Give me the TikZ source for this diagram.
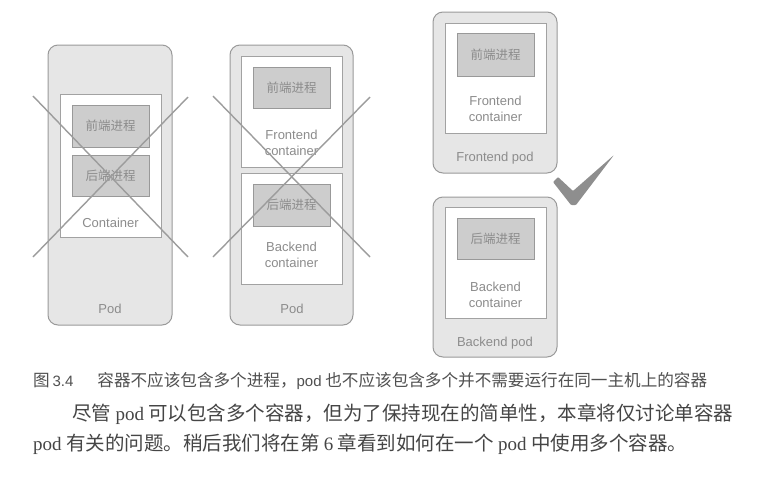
\documentclass[tikz,border=0pt]{standalone}
\usepackage{fontspec}
\setmainfont{Liberation Sans}
\newfontfamily\cjkfont{Noto Sans CJK SC}
\newfontfamily\sansl{Liberation Sans}
\newfontfamily\serifl{Liberation Serif}

\definecolor{podfill}{HTML}{E6E6E6}
\definecolor{podline}{HTML}{9A9A9A}
\definecolor{ctrline}{HTML}{A2A2A2}
\definecolor{procfill}{HTML}{CDCDCD}
\definecolor{procline}{HTML}{999999}
\definecolor{txtgray}{HTML}{8C8C8C}
\definecolor{xgray}{HTML}{9C9C9C}
\definecolor{checkgray}{HTML}{8E8E8E}
\definecolor{captgray}{HTML}{505050}
\definecolor{paragray}{HTML}{454545}

\newcommand\capl[1]{{\sansl\fontsize{15}{20}\selectfont #1}}
\newcommand\parl[1]{{\serifl\fontsize{19}{30}\selectfont #1}}

\begin{document}
\begin{tikzpicture}[
  x=1pt, y=-1pt,
  pod/.style   = {draw=podline, fill=podfill, line width=1pt, rounded corners=10pt, inner sep=0pt},
  ctr/.style   = {draw=ctrline, fill=white, line width=0.9pt, inner sep=0pt, minimum width=101pt},
  proc/.style  = {draw=procline, fill=procfill, line width=0.8pt, inner sep=0pt, minimum width=77pt,
                  font=\cjkfont\fontsize{12.5}{14}\selectfont, text=txtgray},
  lbl/.style   = {font=\fontsize{13}{16}\selectfont, text=txtgray, align=center, inner sep=0pt},
  xline/.style = {xgray, line width=1.4pt},
  capt/.style  = {font=\cjkfont\fontsize{16.6}{20}\selectfont, text=captgray, inner sep=0pt},
  para/.style  = {font=\cjkfont\fontsize{19.5}{30}\selectfont, text=paragray, inner sep=0pt, align=left},
]
\fill[white] (0,0) rectangle (764,480);
\useasboundingbox (0,0) rectangle (764,480);

%% ------------------------------------------------------------------ POD A : one container, two processes
\node[pod, minimum width=124pt, minimum height=280pt] (podA) at (110,185) {};
\node[ctr, minimum height=143pt] (ctrA) at (110.5,165.5) {};
\node[proc, minimum height=42pt] (feA) at (110.5,126) {前端进程};
\node[proc, minimum height=41pt] (beA) at (110.5,175.5) {后端进程};
\node[lbl] (ctrAlbl) at (110.5,223) {Container};
\node[lbl] (podAlbl) at (110,309) {Pod};
\draw[xline] (33,96) -- (188,257);
\draw[xline] (33,257) -- (188,97);

%% ------------------------------------------------------------------ POD B : two containers in one pod
\node[pod, minimum width=123pt, minimum height=280pt] (podB) at (291.5,185) {};
\node[ctr, minimum height=111pt] (feCtrB) at (291.5,111.5) {};
\node[proc, minimum height=41pt] (feB) at (291.5,87.5) {前端进程};
\node[lbl] (feCtrBlbl) at (291.5,143) {Frontend\\container};
\node[ctr, minimum height=111pt] (beCtrB) at (291.5,228.5) {};
\node[proc, minimum height=42pt] (beB) at (291.5,205) {后端进程};
\node[lbl] (beCtrBlbl) at (291.5,255) {Backend\\container};
\node[lbl] (podBlbl) at (292,309) {Pod};
\draw[xline] (213,96) -- (370,257);
\draw[xline] (213,257) -- (370,97);

%% ------------------------------------------------------------------ PODS C, D : one container each
\node[pod, minimum width=124pt, minimum height=161pt] (podC) at (495,92.5) {};
\node[ctr, minimum height=110pt] (ctrC) at (495.5,78) {};
\node[proc, minimum height=43pt] (feC) at (495.5,54.5) {前端进程};
\node[lbl] (ctrClbl) at (495.5,109) {Frontend\\container};
\node[lbl] (podClbl) at (495,158) {Frontend pod};

\node[pod, minimum width=124pt, minimum height=160pt] (podD) at (495,277) {};
\node[ctr, minimum height=111pt] (ctrD) at (495.5,262.5) {};
\node[proc, minimum height=41pt] (beD) at (495.5,238.5) {后端进程};
\node[lbl] (ctrDlbl) at (495.5,294.5) {Backend\\container};
\node[lbl] (podDlbl) at (495,343) {Backend pod};

% tick
\fill[checkgray, rounded corners=1pt] (553,182) -- (558,177) -- (573,191) -- (614,155)
  -- (576,205) -- (571,205) -- cycle;

%% ------------------------------------------------------------------ CAPTION + TEXT
\node[capt, anchor=west] (capt) at (33,381)
  {图\,\capl{3.4}\hspace{24pt}容器不应该包含多个进程，\capl{pod} 也不应该包含多个并不需要运行在同一主机上的容器};

\node[para, anchor=north west] (para) at (33,404)
  {\hspace*{39pt}尽管 \parl{pod} 可以包含多个容器，但为了保持现在的简单性，本章将仅讨论单容器\\
   \parl{pod} 有关的问题。稍后我们将在第 \parl{6} 章看到如何在一个 \parl{pod} 中使用多个容器。};

\end{tikzpicture}
\end{document}
